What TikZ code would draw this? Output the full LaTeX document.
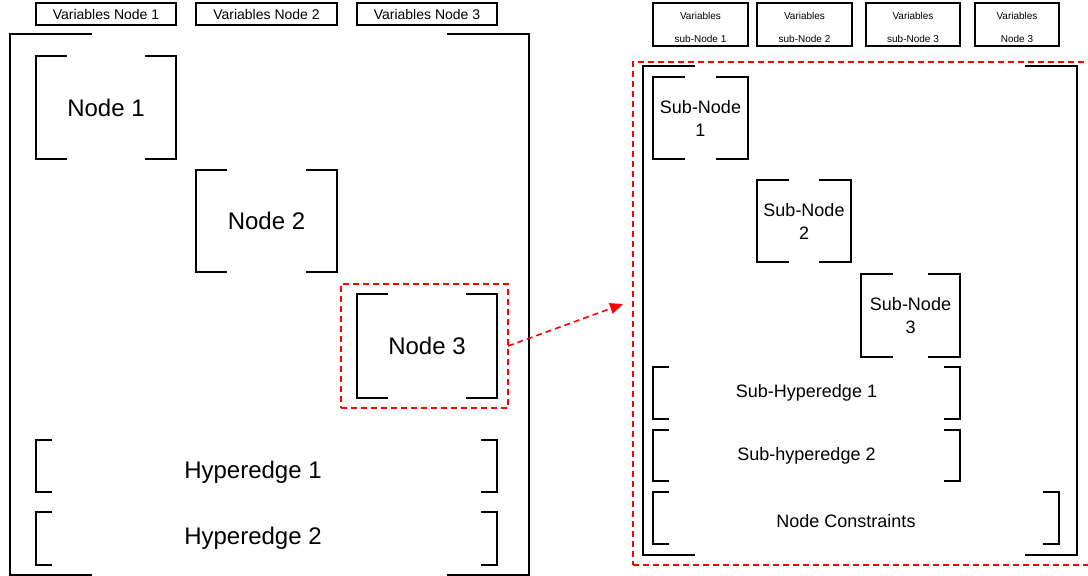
\documentclass[tikz,border=0pt]{standalone}
\usepackage{fontspec}
\setmainfont{Liberation Sans}
\usetikzlibrary{positioning,arrows.meta,calc}
\definecolor{selred}{RGB}{255,0,0}
\newcommand{\clin}{black}
% open bracket pair round a node: #1 node, #2 arm length
\newcommand{\brackets}[2]{
	\draw[brk] ($(#1.north west)+(#2,0)$) -- (#1.north west) -- (#1.south west) -- ($(#1.south west)+(#2,0)$);
	\draw[brk] ($(#1.north east)-(#2,0)$) -- (#1.north east) -- (#1.south east) -- ($(#1.south east)-(#2,0)$);
}
\tikzset{
	every node/.style = { align = center, inner sep=0pt, outer sep=0pt },
	var/.style = { draw=\clin, line width=1.4pt, minimum height=22pt, font=\fontsize{14}{16}\selectfont },
	subvar/.style = { draw=\clin, line width=1.4pt, minimum height=43pt, text height=36pt, font=\fontsize{10}{23}\selectfont },
	grp/.style = { draw=none },
	nd/.style = { grp, font=\fontsize{24}{28}\selectfont },
	subnd/.style = { grp, font=\fontsize{18}{23}\selectfont },
	lbl/.style = { font=\fontsize{24}{28}\selectfont },
	sublbl/.style = { font=\fontsize{18}{23}\selectfont },
	brk/.style = { draw=\clin, line width=1.6pt },
	sel/.style = { draw=selred, line width=1.6pt, dash pattern=on 6pt off 4pt },
	zoom/.style = { sel, -{Triangle[length=13pt,width=11pt]} },
}
\begin{document}
\begin{tikzpicture}[x=1pt,y=-1pt,node distance=20pt]
\useasboundingbox (0,0) rectangle (1088,576);

% hypergraph
\node (var1) [var,minimum width=140pt] at (106,14) {Variables Node 1};
\node (var2) [var,minimum width=141pt,right=of var1] {Variables Node 2};
\node (var3) [var,minimum width=140pt,right=of var2] {Variables Node 3};

\node (hg) [grp,minimum width=519pt,minimum height=541pt] at (269.5,304.5) {};
\brackets{hg}{82}

\node (n1) [nd,minimum width=140pt,minimum height=103pt] at (106,107.5) {Node 1};
\node (n2) [nd,minimum width=141pt,minimum height=102pt] at (266.5,221) {Node 2};
\node (n3) [nd,minimum width=140pt,minimum height=104pt] at (427,346) {Node 3};
\brackets{n1}{31}
\brackets{n2}{31}
\brackets{n3}{31}

\node (he1) [grp,minimum width=461pt,minimum height=52pt,
	label={[lbl,name=he1t,xshift=-13.5pt,yshift=-6pt]center:Hyperedge 1}] at (266.5,466) {};
\node (he2) [grp,minimum width=461pt,minimum height=53pt,
	label={[lbl,name=he2t,xshift=-13.5pt]center:Hyperedge 2}] at (266.5,538.5) {};
\brackets{he1}{16}
\brackets{he2}{16}

\node (n3sel) [sel,minimum width=167pt,minimum height=124pt] at (424.5,346) {};

% zoom on node 3
\node (zsel) [sel,minimum width=459pt,minimum height=503pt] at (862.5,313.5) {};
\coordinate (zin) at (623,304);
\draw[zoom] (n3sel.east) -- (zin);

\node (svar1) [subvar,minimum width=95pt] at (700.5,24.5) {Variables\\sub-Node 1};
\node (svar2) [subvar,minimum width=95pt] at (804.5,24.5) {Variables\\sub-Node 2};
\node (svar3) [subvar,minimum width=94pt] at (913,24.5)   {Variables\\sub-Node 3};
\node (svar4) [subvar,minimum width=84pt] at (1017,24.5)  {Variables\\Node 3};

\node (sg) [grp,minimum width=434pt,minimum height=489pt] at (860,310.5) {};
\brackets{sg}{52}

\node (sn1) [subnd,minimum width=95pt,minimum height=82pt] at (700.5,118)   {Sub-Node\\1};
\node (sn2) [subnd,minimum width=94pt,minimum height=82pt] at (804,221)     {Sub-Node\\2};
\node (sn3) [subnd,minimum width=99pt,minimum height=83pt] at (910.5,315.5) {Sub-Node\\3};
\brackets{sn1}{32}
\brackets{sn2}{32}
\brackets{sn3}{32}

\node (she1) [subnd,minimum width=307pt,minimum height=52pt] at (806.5,393)   {Sub-Hyperedge 1};
\node (she2) [subnd,minimum width=307pt,minimum height=51pt] at (806.5,455.5) {Sub-hyperedge 2};
\node (ncon) [grp,minimum width=406pt,minimum height=52pt,
	label={[sublbl,name=ncont,xshift=-10pt,yshift=-3pt]center:Node Constraints}] at (856,518) {};
\brackets{she1}{16}
\brackets{she2}{16}
\brackets{ncon}{16}

\end{tikzpicture}
\end{document}
